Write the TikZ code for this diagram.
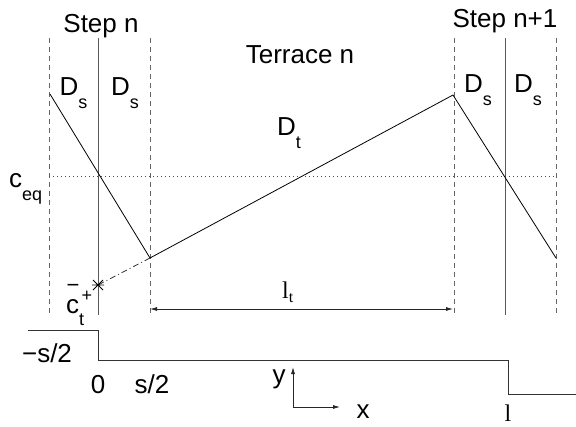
\documentclass[tikz,border=0pt]{standalone}
\usepackage{fontspec}
\setmainfont{Liberation Sans}
\newfontfamily\myserif{Liberation Serif}
\usetikzlibrary{arrows.meta,calc}
\newcommand{\mysub}[1]{\raisebox{-13pt}{\fontsize{18}{18}\selectfont #1}}
\begin{document}
\begin{tikzpicture}[x=1pt,y=-1pt,
  txt/.style={inner sep=0pt, anchor=base, font=\fontsize{26}{30}\selectfont},
  smalltxt/.style={inner sep=0pt, anchor=base, font=\fontsize{18}{18}\selectfont},
  sertxt/.style={inner sep=0pt, anchor=base, font=\myserif\fontsize{24}{28}\selectfont},
  guide/.style={black!60, line width=0.9pt, dash pattern=on 5pt off 4pt},
  stepwall/.style={black!65, line width=1pt},
  prof/.style={black, line width=0.8pt},
  dotline/.style={black!70, line width=0.8pt, dash pattern=on 0.8pt off 3.2pt},
  extrap/.style={black!80, line width=0.8pt, dash pattern=on 6pt off 3pt on 1pt off 3pt},
  levelline/.style={black!80, line width=1pt},
  arr/.style={-{Latex[length=7pt,width=4pt]}, black!85, line width=0.8pt},
  dim/.style={{Latex[length=7pt,width=4pt]}-{Latex[length=7pt,width=4pt]}, black!85, line width=0.8pt}]
\useasboundingbox (0,0) rectangle (576,426);

% guides
\coordinate (g1t) at (49,38);  \coordinate (g1b) at (49,315);
\coordinate (g2t) at (150,38); \coordinate (g2b) at (150,315);
\coordinate (g3t) at (454,38); \coordinate (g3b) at (454,315);
\coordinate (g4t) at (556,38); \coordinate (g4b) at (556,315);
\coordinate (w1t) at (98,38);  \coordinate (w1b) at (98,315);
\coordinate (w2t) at (505,38); \coordinate (w2b) at (505,315);
\draw[guide] (g1t) -- (g1b);
\draw[guide] (g2t) -- (g2b);
\draw[guide] (g3t) -- (g3b);
\draw[guide] (g4t) -- (g4b);
\draw[stepwall] (w1t) -- (w1b);
\draw[stepwall] (w2t) -- (w2b);

% dotted equilibrium line
\coordinate (eqL) at (49,176); \coordinate (eqR) at (556,176);
\draw[dotline] (eqL) -- (eqR);

% profile
\coordinate (p1) at (50,94);
\coordinate (p2) at (150,258);
\coordinate (p3) at (453,95);
\coordinate (p4) at (556,258);
\coordinate (st) at (98,285);
\draw[prof] (p1) -- (p2) -- (p3) -- (p4);
\draw[extrap] (p2) -- (st);
\draw[black, line width=0.8pt] ($(st)+(-5,-5)$) -- ($(st)+(5,5)$)
  ($(st)+(-5,5)$) -- ($(st)+(5,-5)$) ($(st)+(-6,0)$) -- ($(st)+(6,0)$);

% labels
\node[txt] (stepn) at (101,32) {Step n};
\node[txt] (stepn1) at (505,27) {Step n+1};
\node[txt] (terr) at (300,63) {Terrace n};
\node[txt] (ds1) at (73.5,95) {D\mysub{s}};
\node[txt] (ds2) at (125,95) {D\mysub{s}};
\node[txt] (ds3) at (478,92) {D\mysub{s}};
\node[txt] (ds4) at (528,92) {D\mysub{s}};
\node[txt] (dt) at (289,135) {D\mysub{t}};
\node[txt, anchor=base west] (ceq) at (9,187) {c\mysub{eq}};
\node[txt, anchor=base west, text height=12pt] (ct) at (66,313) {c\raisebox{-12pt}{\fontsize{18}{18}\selectfont t}};
\node[smalltxt, text height=11pt, text depth=0pt] (plus) at (87,301) {+};
\node[txt, font=\fontsize{22}{26}\selectfont, text height=9pt, text depth=0pt] (minus) at (73,292) {−};

% l_t dimension
\coordinate (dL) at (150,309); \coordinate (dR) at (453,309);
\draw[dim] (dL) -- (dR);
\node[sertxt, anchor=base west] (lt) at (282,298) {l\raisebox{-4pt}{\fontsize{16}{16}\selectfont t}};

% step function
\coordinate (s1) at (28,330); \coordinate (s2) at (98,330);
\coordinate (s3) at (98,360); \coordinate (s4) at (508,360);
\coordinate (s5) at (508,394); \coordinate (s6) at (576,394);
\draw[levelline] (s1) -- (s2) -- (s3) -- (s4) -- (s5) -- (s6);
\node[txt] (ms2) at (47,362) {−s/2};
\node[txt] (zero) at (98,393) {0};
\node[txt] (ps2) at (152,393) {s/2};
\node[sertxt] (one) at (508,421) {l};

% axes
\coordinate (o) at (293,407);
\coordinate (yend) at (293,367);
\coordinate (xend) at (340,407);
\draw[arr] (o) -- (yend);
\draw[arr] (o) -- (xend);
\node[txt] (ylab) at (279,383) {y};
\node[txt] (xlab) at (363,418) {x};
\end{tikzpicture}
\end{document}
